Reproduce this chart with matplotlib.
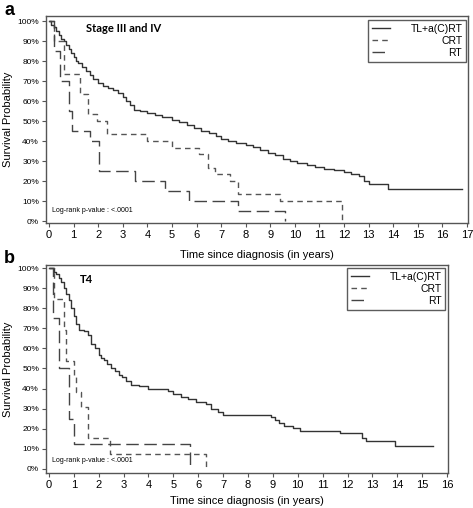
import matplotlib
matplotlib.use("Agg")
import matplotlib.pyplot as plt

plt.rcParams['font.family'] = ['Liberation Sans', 'DejaVu Sans']

# ---------------- Panel a: Stage III and IV ----------------
a_tl_t = [0, 0.1, 0.2, 0.3, 0.4, 0.5, 0.6, 0.7, 0.8, 0.9, 1.0, 1.1, 1.2, 1.35, 1.5, 1.65,
          1.8, 2.0, 2.2, 2.4, 2.6, 2.8, 3.0, 3.15, 3.3, 3.45, 3.7, 4.0, 4.3, 4.6, 5.0, 5.3,
          5.6, 5.9, 6.2, 6.5, 6.8, 7.0, 7.3, 7.6, 8.0, 8.3, 8.6, 8.9, 9.2, 9.5, 9.8, 10.1,
          10.5, 10.8, 11.2, 11.6, 12.0, 12.3, 12.6, 12.8, 13.0, 13.8, 16.8]
a_tl_s = [1.0, .98, .97, .95, .93, .91, .90, .88, .86, .84, .82, .80, .79, .77, .75, .73,
          .71, .69, .675, .665, .655, .64, .62, .60, .58, .555, .55, .54, .53, .52, .505, .495,
          .48, .465, .45, .44, .425, .41, .40, .39, .38, .37, .355, .34, .33, .31, .30, .29,
          .28, .27, .26, .255, .245, .235, .225, .20, .185, .16, .16]
a_crt_t = [0, 0.22, 0.6, 1.27, 1.6, 1.95, 2.37, 4.0, 5.0, 6.1, 6.45, 6.75, 7.35, 7.7, 9.4, 11.9]
a_crt_s = [1.0, .90, .733, .633, .533, .50, .433, .40, .367, .333, .267, .233, .20, .133, .10, 0.0]
a_rt_t = [0, 0.2, 0.45, 0.8, 0.95, 1.65, 2.05, 3.5, 4.7, 5.7, 7.7, 9.6]
a_rt_s = [1.0, .85, .70, .55, .45, .40, .25, .20, .15, .10, .05, 0.0]

# ---------------- Panel b: T4 ----------------
b_tl_t = [0, 0.2, 0.3, 0.4, 0.5, 0.6, 0.7, 0.8, 0.9, 1.0, 1.1, 1.2, 1.4, 1.55, 1.7, 1.85,
          2.0, 2.1, 2.2, 2.35, 2.5, 2.65, 2.8, 2.95, 3.1, 3.3, 3.6, 4.0, 4.8, 5.0, 5.3, 5.6,
          5.9, 6.3, 6.5, 6.8, 7.0, 8.93, 9.1, 9.23, 9.43, 9.8, 10.1, 11.7, 12.6, 12.75, 13.9, 15.45]
b_tl_s = [1.0, .98, .97, .95, .93, .90, .87, .84, .80, .76, .72, .69, .685, .665, .62, .60,
          .565, .55, .54, .52, .50, .49, .47, .46, .44, .42, .415, .40, .39, .375, .36, .35,
          .335, .325, .30, .285, .27, .26, .245, .23, .215, .205, .19, .178, .155, .14, .115, .115]
b_crt_t = [0, 0.2, 0.6, 0.7, 1.0, 1.1, 1.3, 1.55, 2.45, 6.3]
b_crt_s = [1.0, .846, .692, .538, .462, .385, .308, .154, .077, 0.0]
b_rt_t = [0, 0.15, 0.4, 0.8, 1.0, 5.65]
b_rt_s = [1.0, .75, .50, .25, .125, 0.0]

labels = ["TL+a(C)RT", "CRT", "RT"]
y_ticks = [0, .1, .2, .3, .4, .5, .6, .7, .8, .9, 1.0]
y_ticklabels = ["0%", "10%", "20%", "30%", "40%", "50%", "60%", "70%", "80%", "90%", "100%"]

fig = plt.figure(figsize=(4.73, 5.08), dpi=100)

styles = [dict(color="#333333", lw=1.0, ls="-"),
          dict(color="#555555", lw=1.0, ls=(0, (4, 3))),
          dict(color="#444444", lw=1.0, ls=(0, (9, 4)))]


def panel(pos, series, xmax_ticks, xlim, ylim, title, title_xy, leg_anchor, xlabelpad):
    ax = fig.add_axes(pos)
    for (t, s), st, lab in zip(series, styles, labels):
        ax.step(t, s, where="post", label=lab, **st)
    ax.set_xlim(*xlim)
    ax.set_ylim(*ylim)
    ax.set_xticks(range(0, xmax_ticks + 1))
    ax.set_xticklabels([str(i) for i in range(0, xmax_ticks + 1)], fontsize=8)
    ax.set_yticks(y_ticks)
    ax.set_yticklabels(y_ticklabels, fontsize=6)
    ax.tick_params(axis='both', direction='out', length=3, width=0.8, color="#555555", pad=2)
    for sp in ax.spines.values():
        sp.set_color("#555555")
        sp.set_linewidth(1.0)
    ax.set_xlabel("Time since diagnosis (in years)", fontsize=8, labelpad=xlabelpad)
    ax.set_ylabel("Survival Probability", fontsize=8, labelpad=3)
    ax.text(title_xy[0], title_xy[1], title, transform=ax.transAxes, fontsize=8,
            fontweight="bold", family=["Lato", "DejaVu Sans"], va="top")
    ax.text(0.015, 0.045, "Log-rank p-value : <.0001", transform=ax.transAxes,
            fontsize=5, va="bottom")
    leg = ax.legend(loc="upper right", bbox_to_anchor=leg_anchor, fontsize=7.5,
                    frameon=True, fancybox=False, edgecolor="#333333",
                    handlelength=1.7, handletextpad=2.0, borderpad=0.35,
                    labelspacing=0.2, borderaxespad=0)
    leg.get_frame().set_linewidth(1.0)
    return ax, leg


ax1, leg1 = panel([46 / 473, 1 - 223 / 508, 422 / 473, 207 / 508],
                  [(a_tl_t, a_tl_s), (a_crt_t, a_crt_s), (a_rt_t, a_rt_s)],
                  17, (-0.12, 17.04), (-0.01, 1.025), "Stage III and IV", (0.095, 0.965),
                  (0.995, 0.98), 7)
ax2, leg2 = panel([46 / 473, 1 - 473 / 508, 402 / 473, 208 / 508],
                  [(b_tl_t, b_tl_s), (b_crt_t, b_crt_s), (b_rt_t, b_rt_s)],
                  16, (-0.12, 16.04), (-0.02, 1.015), "T4", (0.085, 0.955),
                  (0.993, 0.985), 4)

# right-align legend labels (offsets in display pixels, same dpi as savefig)
fig.canvas.draw()
renderer = fig.canvas.get_renderer()
for leg in (leg1, leg2):
    texts = leg.get_texts()
    widths = [t.get_window_extent(renderer).width for t in texts]
    wmax = max(widths)
    for t, w in zip(texts, widths):
        t.set_position((wmax - w, 0))

fig.text(4 / 473, 1 - 2 / 508, "a", fontsize=13, fontweight="bold", va="top", ha="left")
fig.text(4 / 473, 1 - 250 / 508, "b", fontsize=13, fontweight="bold", va="top", ha="left")

fig.savefig("out.png", dpi=100)
